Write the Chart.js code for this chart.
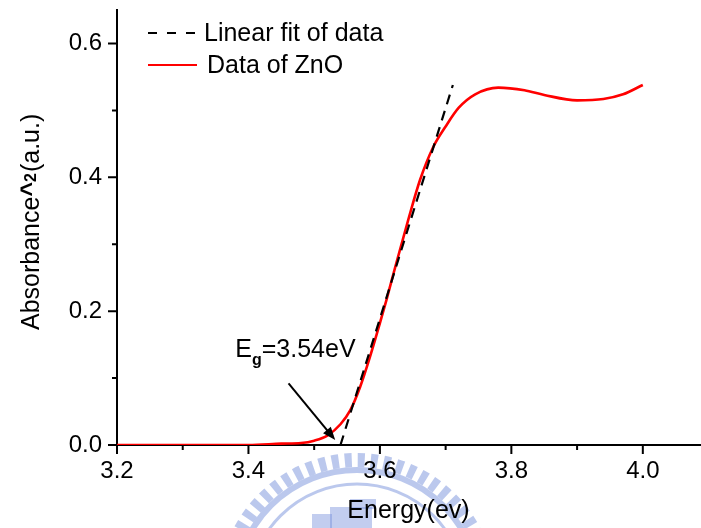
<!DOCTYPE html>
<html>
<head>
<meta charset="utf-8">
<script src="https://cdn.jsdelivr.net/npm/chart.js@4.4.0/dist/chart.umd.min.js"></script>
<style>
  html, body { margin: 0; padding: 0; background: #fff; }
</style>
</head>
<body>
<canvas id="chart" width="701" height="528"></canvas>
<script>
// data
const energy = [3.20, 3.30, 3.40, 3.45, 3.48, 3.50, 3.52, 3.54, 3.555, 3.57, 3.585, 3.60, 3.61, 3.625,
                3.643, 3.661, 3.681, 3.70, 3.72, 3.745, 3.78, 3.82, 3.85, 3.90, 3.94, 3.97, 4.00];
const absorbance = [0.0, 0.0, 0.0, 0.002, 0.003, 0.0065, 0.014, 0.031, 0.052, 0.087, 0.132, 0.182, 0.217, 0.272,
                    0.336, 0.396, 0.445, 0.476, 0.504, 0.524, 0.534, 0.530, 0.523, 0.515, 0.517, 0.524, 0.538];
const fitEnergy = [3.54, 3.711];
const fitAbsorbance = [0, 0.538];

const xMajorTicks = [3.2, 3.4, 3.6, 3.8, 4.0];
const xMinorTicks = [3.3, 3.5, 3.7, 3.9];
const yMajorTicks = [0, 0.2, 0.4, 0.6];
const yMinorTicks = [0.1, 0.3, 0.5];

// annotation (data coords)
const gapText = { e: 3.380, a: 0.131 };
const arrowFrom = { e: 3.461, a: 0.092 };
const arrowTo = { e: 3.532, a: 0.0075 };

const FONT = "'Liberation Sans', Arial, sans-serif";
Chart.defaults.font.family = FONT;
Chart.defaults.color = '#000';

const toPoints = (xs, ys) => xs.map((x, i) => ({ x: x, y: ys[i] }));

// faint logo behind the plot
const watermark = {
  id: 'watermark',
  beforeDraw(chart) {
    const ctx = chart.ctx;
    const cx = 357, cy = 592;
    ctx.save();
    ctx.strokeStyle = 'rgba(120,145,220,0.5)';
    ctx.lineWidth = 14;
    ctx.setLineDash([7, 6]);
    ctx.beginPath();
    ctx.arc(cx, cy, 132, Math.PI, 2 * Math.PI);
    ctx.stroke();
    ctx.setLineDash([]);
    ctx.lineWidth = 6;
    ctx.beginPath();
    ctx.arc(cx, cy, 122, Math.PI, 2 * Math.PI);
    ctx.stroke();
    ctx.lineWidth = 3;
    ctx.beginPath();
    ctx.arc(cx, cy, 108, Math.PI, 2 * Math.PI);
    ctx.stroke();
    ctx.fillStyle = 'rgba(120,145,220,0.45)';
    ctx.fillRect(312, 514, 20, 14);
    ctx.fillRect(330, 507, 42, 21);
    ctx.fillRect(350, 499, 26, 10);
    ctx.restore();
  }
};

// major / minor tick marks
const tickMarks = {
  id: 'tickMarks',
  afterDraw(chart) {
    const ctx = chart.ctx;
    const xs = chart.scales.x, ys = chart.scales.y;
    const area = chart.chartArea;
    ctx.save();
    ctx.strokeStyle = '#000';
    ctx.lineWidth = 2;
    ctx.beginPath();
    xMajorTicks.forEach(v => { const p = xs.getPixelForValue(v); ctx.moveTo(p, area.bottom); ctx.lineTo(p, area.bottom + 9); });
    xMinorTicks.forEach(v => { const p = xs.getPixelForValue(v); ctx.moveTo(p, area.bottom); ctx.lineTo(p, area.bottom + 5); });
    yMajorTicks.forEach(v => { const p = ys.getPixelForValue(v); ctx.moveTo(area.left, p); ctx.lineTo(area.left - 9, p); });
    yMinorTicks.forEach(v => { const p = ys.getPixelForValue(v); ctx.moveTo(area.left, p); ctx.lineTo(area.left - 5, p); });
    ctx.stroke();
    ctx.restore();
  }
};

// legend, y title and the Eg note
const extras = {
  id: 'extras',
  afterDraw(chart) {
    const ctx = chart.ctx;
    const xs = chart.scales.x, ys = chart.scales.y;
    ctx.save();

    chart.data.datasets.forEach((ds, i) => {
      const y = 33 + i * 32;
      ctx.strokeStyle = ds.borderColor;
      ctx.lineWidth = 2;
      ctx.setLineDash(ds.borderDash ? [9, 10] : []);
      ctx.beginPath();
      ctx.moveTo(148, y);
      ctx.lineTo(197, y);
      ctx.stroke();
      ctx.setLineDash([]);
      ctx.fillStyle = '#000';
      ctx.font = '25px ' + FONT;
      ctx.textBaseline = 'middle';
      ctx.textAlign = 'left';
      ctx.fillText(ds.label, 204 + i * 3, y + 1);
    });

    // y title: Absorbance^2(a.u.)
    ctx.save();
    ctx.translate(38.5, 330);
    ctx.rotate(-Math.PI / 2);
    ctx.textBaseline = 'alphabetic';
    ctx.textAlign = 'left';
    let x = 0;
    ctx.font = '25px ' + FONT;
    ctx.fillText('Absorbance', x, 0);
    x += ctx.measureText('Absorbance').width;
    ctx.font = 'bold 25px ' + FONT;
    ctx.fillText('^', x, 0);
    x += ctx.measureText('^').width;
    ctx.font = 'bold 16px ' + FONT;
    ctx.fillText('2', x, -3);
    x += ctx.measureText('2').width + 1;
    ctx.font = '25px ' + FONT;
    ctx.fillText('(a.u.)', x, 0);
    ctx.restore();

    // Eg = 3.54 eV
    const tx = xs.getPixelForValue(gapText.e);
    const ty = ys.getPixelForValue(gapText.a);
    ctx.textBaseline = 'alphabetic';
    ctx.font = '25px ' + FONT;
    ctx.fillText('E', tx, ty);
    let w = ctx.measureText('E').width;
    ctx.font = 'bold 16px ' + FONT;
    ctx.fillText('g', tx + w, ty + 8);
    w += ctx.measureText('g').width;
    ctx.font = '25px ' + FONT;
    ctx.fillText('=3.54eV', tx + w, ty);

    // arrow
    const x1 = xs.getPixelForValue(arrowFrom.e), y1 = ys.getPixelForValue(arrowFrom.a);
    const x2 = xs.getPixelForValue(arrowTo.e), y2 = ys.getPixelForValue(arrowTo.a);
    const ang = Math.atan2(y2 - y1, x2 - x1);
    ctx.strokeStyle = '#000';
    ctx.lineWidth = 2;
    ctx.beginPath();
    ctx.moveTo(x1, y1);
    ctx.lineTo(x2 - 8 * Math.cos(ang), y2 - 8 * Math.sin(ang));
    ctx.stroke();
    ctx.fillStyle = '#000';
    ctx.beginPath();
    ctx.moveTo(x2, y2);
    ctx.lineTo(x2 - 13 * Math.cos(ang) + 5 * Math.sin(ang), y2 - 13 * Math.sin(ang) - 5 * Math.cos(ang));
    ctx.lineTo(x2 - 13 * Math.cos(ang) - 5 * Math.sin(ang), y2 - 13 * Math.sin(ang) + 5 * Math.cos(ang));
    ctx.closePath();
    ctx.fill();

    ctx.restore();
  }
};

new Chart(document.getElementById('chart'), {
  type: 'line',
  data: {
    datasets: [
      {
        label: 'Linear fit of data',
        data: toPoints(fitEnergy, fitAbsorbance),
        borderColor: '#000',
        borderWidth: 2.2,
        borderDash: [10, 7],
        pointRadius: 0,
        tension: 0
      },
      {
        label: 'Data of ZnO',
        data: toPoints(energy, absorbance),
        borderColor: '#ff0000',
        borderWidth: 2.6,
        pointRadius: 0,
        cubicInterpolationMode: 'monotone'
      }
    ]
  },
  options: {
    responsive: false,
    animation: false,
    layout: { padding: { top: 10, right: 1, left: 0, bottom: 0 } },
    plugins: {
      legend: { display: false },
      tooltip: { enabled: false }
    },
    scales: {
      x: {
        type: 'linear',
        min: 3.2,
        max: 4.087,
        afterBuildTicks: s => { s.ticks = xMajorTicks.map(v => ({ value: v })); },
        afterFit: s => { s.height = 83; s.paddingLeft = 0; s.paddingRight = 0; },
        grid: { display: false },
        border: { display: true, color: '#000', width: 2 },
        ticks: {
          color: '#000', font: { size: 24 }, padding: 4, maxRotation: 0, autoSkip: false,
          callback: v => v.toFixed(1)
        },
        title: {
          display: true, text: 'Energy(ev)', color: '#000',
          font: { size: 25 }, padding: { top: 0, bottom: 2 }
        }
      },
      y: {
        min: 0,
        max: 0.65,
        afterBuildTicks: s => { s.ticks = yMajorTicks.map(v => ({ value: v })); },
        afterFit: s => { s.width = 117; s.paddingTop = 0; s.paddingBottom = 0; },
        grid: { display: false },
        border: { display: true, color: '#000', width: 2 },
        ticks: {
          color: '#000', font: { size: 24 }, padding: 7,
          callback: v => v.toFixed(1)
        }
      }
    }
  },
  plugins: [watermark, tickMarks, extras]
});
</script>
</body>
</html>
